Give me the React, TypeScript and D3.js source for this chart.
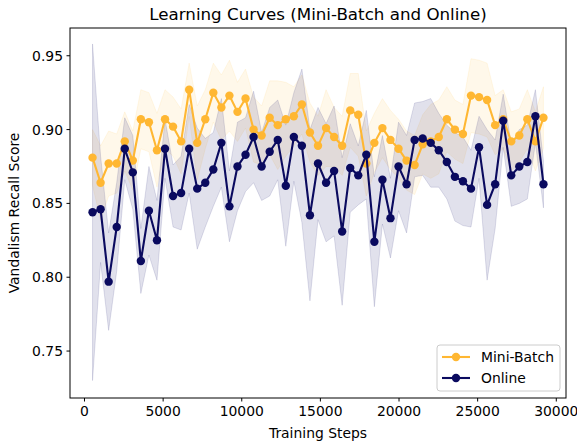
import { useEffect, useRef } from 'react';
import * as d3 from 'd3';

const steps = [
  512, 1024, 1536, 2048, 2560, 3072, 3584, 4096, 4608, 5120,
  5632, 6144, 6656, 7168, 7680, 8192, 8704, 9216, 9728, 10240,
  10752, 11264, 11776, 12288, 12800, 13312, 13824, 14336, 14848, 15360,
  15872, 16384, 16896, 17408, 17920, 18432, 18944, 19456, 19968, 20480,
  20992, 21504, 22016, 22528, 23040, 23552, 24064, 24576, 25088, 25600,
  26112, 26624, 27136, 27648, 28160, 28672, 29184,
];

const miniBatchMean = [
  0.881, 0.864, 0.877, 0.877, 0.892, 0.879, 0.907, 0.905, 0.886, 0.907,
  0.902, 0.892, 0.927, 0.891, 0.907, 0.925, 0.915, 0.923, 0.912, 0.921,
  0.900, 0.896, 0.908, 0.903, 0.907, 0.909, 0.917, 0.898, 0.889, 0.901,
  0.895, 0.889, 0.913, 0.910, 0.877, 0.891, 0.901, 0.893, 0.887, 0.879,
  0.876, 0.890, 0.892, 0.895, 0.907, 0.900, 0.897, 0.923, 0.922, 0.920,
  0.903, 0.907, 0.892, 0.896, 0.907, 0.892, 0.908,
];

const miniBatchStd = [
  0.019, 0.025, 0.022, 0.020, 0.020, 0.020, 0.020, 0.020, 0.025, 0.020,
  0.020, 0.022, 0.018, 0.025, 0.020, 0.020, 0.022, 0.024, 0.020, 0.020,
  0.022, 0.020, 0.025, 0.030, 0.025, 0.020, 0.020, 0.020, 0.020, 0.026,
  0.020, 0.020, 0.025, 0.028, 0.022, 0.020, 0.020, 0.020, 0.020, 0.020,
  0.020, 0.020, 0.025, 0.025, 0.022, 0.020, 0.020, 0.025, 0.025, 0.025,
  0.020, 0.020, 0.020, 0.018, 0.020, 0.020, 0.021,
];

const onlineMean = [
  0.844, 0.846, 0.797, 0.834, 0.887, 0.871, 0.811, 0.845, 0.825, 0.887,
  0.855, 0.857, 0.887, 0.860, 0.864, 0.873, 0.891, 0.848, 0.875, 0.883,
  0.895, 0.875, 0.885, 0.893, 0.862, 0.895, 0.889, 0.842, 0.877, 0.864,
  0.872, 0.831, 0.874, 0.869, 0.883, 0.824, 0.866, 0.840, 0.875, 0.863,
  0.893, 0.894, 0.891, 0.886, 0.878, 0.868, 0.865, 0.860, 0.888, 0.849,
  0.863, 0.906, 0.869, 0.875, 0.878, 0.909, 0.863,
];

const onlineStd = [
  0.114, 0.036, 0.033, 0.030, 0.021, 0.025, 0.022, 0.030, 0.027, 0.020,
  0.021, 0.025, 0.030, 0.041, 0.030, 0.025, 0.030, 0.024, 0.030, 0.025,
  0.031, 0.023, 0.030, 0.027, 0.041, 0.030, 0.052, 0.058, 0.038, 0.040,
  0.044, 0.050, 0.030, 0.020, 0.030, 0.044, 0.030, 0.027, 0.030, 0.033,
  0.025, 0.025, 0.030, 0.025, 0.025, 0.030, 0.030, 0.026, 0.021, 0.051,
  0.030, 0.018, 0.021, 0.025, 0.025, 0.018, 0.016,
];

const xTicks = [0, 5000, 10000, 15000, 20000, 25000, 30000];
const yTicks = [0.75, 0.8, 0.85, 0.9, 0.95];

const W = 577;
const H = 444;
const plot = { left: 70, right: 566, top: 28, bottom: 398 };
const FONT = 'DejaVu Sans, sans-serif';
const ORANGE = '#ffb732';
const NAVY = '#0a0a5f';

const App = () => {
  const svgRef = useRef<SVGSVGElement>(null);

  useEffect(() => {
    const svg = d3.select(svgRef.current);
    svg.selectAll('*').remove();

    const x = d3.scaleLinear().domain([-921.6, 30617.6]).range([plot.left, plot.right]);
    const y = d3.scaleLinear().domain([0.7182, 0.9688]).range([plot.bottom, plot.top]);

    const series = [
      { name: 'Mini-Batch', mean: miniBatchMean, std: miniBatchStd, color: ORANGE, alpha: 0.1 },
      { name: 'Online', mean: onlineMean, std: onlineStd, color: NAVY, alpha: 0.12 },
    ];

    const defs = svg.append('defs');
    defs.append('clipPath').attr('id', 'plotclip')
      .append('rect')
      .attr('x', plot.left).attr('y', plot.top)
      .attr('width', plot.right - plot.left).attr('height', plot.bottom - plot.top);

    const body = svg.append('g').attr('clip-path', 'url(#plotclip)');

    // std bands
    series.forEach(s => {
      const area = d3.area<number>()
        .x((_, i) => x(steps[i]))
        .y0((d, i) => y(d - s.std[i]))
        .y1((d, i) => y(d + s.std[i]));
      body.append('path')
        .attr('d', area(s.mean))
        .attr('fill', s.color)
        .attr('fill-opacity', s.alpha)
        .attr('stroke', s.color)
        .attr('stroke-opacity', s.alpha)
        .attr('stroke-width', 1);
    });

    // lines + markers
    series.forEach(s => {
      const line = d3.line<number>().x((_, i) => x(steps[i])).y(d => y(d));
      body.append('path')
        .attr('d', line(s.mean))
        .attr('fill', 'none')
        .attr('stroke', s.color)
        .attr('stroke-width', 2.1);
      body.selectAll(null)
        .data(s.mean)
        .join('circle')
        .attr('cx', (_, i) => x(steps[i]))
        .attr('cy', d => y(d))
        .attr('r', 4.2)
        .attr('fill', s.color);
    });

    // frame
    svg.append('rect')
      .attr('x', plot.left).attr('y', plot.top)
      .attr('width', plot.right - plot.left).attr('height', plot.bottom - plot.top)
      .attr('fill', 'none').attr('stroke', '#000').attr('stroke-width', 1);

    // x axis
    const xa = svg.append('g');
    xTicks.forEach(t => {
      xa.append('line')
        .attr('x1', x(t)).attr('x2', x(t))
        .attr('y1', plot.bottom).attr('y2', plot.bottom + 3.5)
        .attr('stroke', '#000');
      xa.append('text')
        .attr('x', x(t)).attr('y', plot.bottom + 18)
        .attr('text-anchor', 'middle')
        .style('font-family', FONT).style('font-size', '13.9px')
        .text(String(t));
    });

    // y axis
    const ya = svg.append('g');
    yTicks.forEach(t => {
      ya.append('line')
        .attr('x1', plot.left - 3.5).attr('x2', plot.left)
        .attr('y1', y(t)).attr('y2', y(t))
        .attr('stroke', '#000');
      ya.append('text')
        .attr('x', plot.left - 7).attr('y', y(t) + 5)
        .attr('text-anchor', 'end')
        .style('font-family', FONT).style('font-size', '13.9px')
        .text(t.toFixed(2));
    });

    const cx = (plot.left + plot.right) / 2;
    svg.append('text')
      .attr('x', cx).attr('y', 20)
      .attr('text-anchor', 'middle')
      .style('font-family', FONT).style('font-size', '16.7px')
      .text('Learning Curves (Mini-Batch and Online)');

    svg.append('text')
      .attr('x', cx).attr('y', 438)
      .attr('text-anchor', 'middle')
      .style('font-family', FONT).style('font-size', '13.9px')
      .text('Training Steps');

    svg.append('text')
      .attr('transform', `translate(19,${(plot.top + plot.bottom) / 2}) rotate(-90)`)
      .attr('text-anchor', 'middle')
      .style('font-family', FONT).style('font-size', '13.9px')
      .text('Vandalism Recall Score');

    // legend
    const lg = svg.append('g');
    lg.append('rect')
      .attr('x', 437).attr('y', 345)
      .attr('width', 123).attr('height', 46)
      .attr('rx', 3)
      .attr('fill', '#fff').attr('fill-opacity', 0.8)
      .attr('stroke', '#cccccc');
    series.forEach((s, i) => {
      const ly = 357 + i * 21;
      lg.append('line')
        .attr('x1', 442).attr('x2', 470)
        .attr('y1', ly).attr('y2', ly)
        .attr('stroke', s.color).attr('stroke-width', 2.1);
      lg.append('circle')
        .attr('cx', 456).attr('cy', ly).attr('r', 4.2)
        .attr('fill', s.color);
      lg.append('text')
        .attr('x', 481).attr('y', ly + 5)
        .style('font-family', FONT).style('font-size', '13.9px')
        .text(s.name);
    });
  }, []);

  return (
    <svg
      ref={svgRef}
      width={W}
      height={H}
      style={{ position: 'absolute', left: 0, top: 0, background: '#fff' }}
    />
  );
};

export default App;
